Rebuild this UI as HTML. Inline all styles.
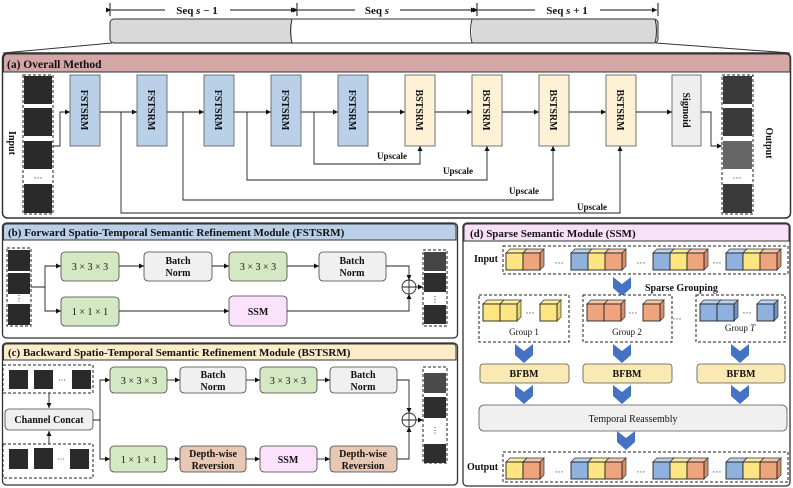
<!DOCTYPE html>
<html><head><meta charset="utf-8"><style>
html,body{margin:0;padding:0;background:#fff;}
svg{display:block;}
text{font-family:"Liberation Serif",serif;fill:#111;}
.b{font-weight:bold;}
</style></head><body>
<svg width="793" height="488" viewBox="0 0 793 488" xmlns="http://www.w3.org/2000/svg">
<defs>
<marker id="ar" markerWidth="6" markerHeight="6" refX="5" refY="3" orient="auto" markerUnits="userSpaceOnUse"><path d="M0,0.5 L5,3 L0,5.5z" fill="#111"/></marker>
<g id="cy"><path d="M0,0 l4,-4 h17 l-4,4z" fill="#fbeea0" stroke="#333" stroke-width="0.7"/><path d="M17,0 l4,-4 v17 l-4,4z" fill="#e8d46a" stroke="#333" stroke-width="0.7"/><rect width="17" height="17" fill="#fde582" stroke="#222" stroke-width="0.9"/></g>
<g id="co"><path d="M0,0 l4,-4 h17 l-4,4z" fill="#f6c6a8" stroke="#333" stroke-width="0.7"/><path d="M17,0 l4,-4 v17 l-4,4z" fill="#d9906a" stroke="#333" stroke-width="0.7"/><rect width="17" height="17" fill="#eea47c" stroke="#222" stroke-width="0.9"/></g>
<g id="cb"><path d="M0,0 l4,-4 h17 l-4,4z" fill="#bcd3ee" stroke="#333" stroke-width="0.7"/><path d="M17,0 l4,-4 v17 l-4,4z" fill="#6f93c4" stroke="#333" stroke-width="0.7"/><rect width="17" height="17" fill="#8fb1dd" stroke="#222" stroke-width="0.9"/></g>
<path id="ch" d="M-9,0 L0,7 L9,0 L9,11 L0,19 L-9,11z" fill="#4472c4"/>
</defs>

<!-- top sequence -->
<g stroke="#111" stroke-width="1">
<line x1="110" y1="3" x2="110" y2="16"/><line x1="297" y1="3" x2="297" y2="16"/><line x1="477" y1="3" x2="477" y2="16"/><line x1="658" y1="3" x2="658" y2="16"/>
<line x1="111" y1="10" x2="165" y2="10" marker-start="url(#ar)"/><line x1="230" y1="10" x2="296" y2="10" marker-end="url(#ar)"/>
<line x1="298" y1="10" x2="355" y2="10" marker-start="url(#ar)"/><line x1="400" y1="10" x2="476" y2="10" marker-end="url(#ar)"/>
<line x1="478" y1="10" x2="535" y2="10" marker-start="url(#ar)"/><line x1="600" y1="10" x2="657" y2="10" marker-end="url(#ar)"/>
</g>
<text x="197" y="14" font-size="11" class="b" text-anchor="middle">Seq <tspan font-style="italic">s</tspan> − 1</text>
<text x="377" y="14" font-size="11" class="b" text-anchor="middle">Seq <tspan font-style="italic">s</tspan></text>
<text x="567" y="14" font-size="11" class="b" text-anchor="middle">Seq <tspan font-style="italic">s</tspan> + 1</text>
<rect x="110" y="19" width="548" height="24" rx="4" fill="#d9d9d9" stroke="#333"/>
<rect x="292" y="19.5" width="180" height="23" fill="#fff"/>
<path d="M292,19 q-3,12 0,24 M472,19 q-3,12 0,24 M655,19 q3,12 0,24" fill="none" stroke="#333"/>
<line x1="292" y1="19" x2="472" y2="19" stroke="#333"/><line x1="292" y1="43" x2="472" y2="43" stroke="#333"/>
<line x1="112" y1="43" x2="3" y2="53" stroke="#333"/><line x1="656" y1="43" x2="790" y2="53" stroke="#333"/>

<!-- (a) -->
<rect x="2.5" y="53" width="788" height="165" rx="5" fill="#fff" stroke="#333" stroke-width="1.5"/>
<path d="M3.5,72 V58 a4,4 0 0 1 4,-4 H786 a4,4 0 0 1 4,4 V72z" fill="#d5a6a6" stroke="#333"/>
<text x="7" y="68" font-size="11.5" class="b">(a) Overall Method</text>
<rect x="23" y="75" width="30" height="139" fill="#fff" stroke="#222" stroke-dasharray="3,2"/>
<g fill="#2a2a2a"><rect x="24" y="76" width="28" height="28"/><rect x="24" y="108" width="28" height="28"/><rect x="24" y="141" width="28" height="28"/><rect x="24" y="184" width="28" height="29"/></g>
<text x="38" y="181" font-size="9" text-anchor="middle">···</text>
<text transform="translate(9,143) rotate(90)" font-size="10" class="b" text-anchor="middle">Input</text>
<rect x="722" y="75" width="31" height="139" fill="#fff" stroke="#222" stroke-dasharray="3,2"/>
<g><rect x="723" y="76" width="29" height="28" fill="#3a3a3a"/><rect x="723" y="108" width="29" height="28" fill="#3a3a3a"/><rect x="723" y="141" width="29" height="28" fill="#666"/><rect x="723" y="184" width="29" height="29" fill="#3a3a3a"/></g>
<text x="737" y="181" font-size="9" text-anchor="middle">···</text>
<text transform="translate(766,143) rotate(90)" font-size="10" class="b" text-anchor="middle">Output</text>

<g stroke="#555" stroke-width="0.8">
<rect x="70" y="75" width="30" height="71" fill="#b9d0e8"/><rect x="137" y="75" width="30" height="71" fill="#b9d0e8"/><rect x="204" y="75" width="30" height="71" fill="#b9d0e8"/><rect x="271" y="75" width="30" height="71" fill="#b9d0e8"/><rect x="338" y="75" width="30" height="71" fill="#b9d0e8"/>
<rect x="405" y="75" width="30" height="71" fill="#fdf1d6"/><rect x="472" y="75" width="30" height="71" fill="#fdf1d6"/><rect x="539" y="75" width="30" height="71" fill="#fdf1d6"/><rect x="606" y="75" width="30" height="71" fill="#fdf1d6"/>
<rect x="672" y="75" width="29" height="71" fill="#eeeeee"/>
</g>
<g font-size="10" class="b" text-anchor="middle">
<text transform="translate(81,110) rotate(90)" class="b">FSTSRM</text><text transform="translate(148,110) rotate(90)" class="b">FSTSRM</text><text transform="translate(215,110) rotate(90)" class="b">FSTSRM</text><text transform="translate(282,110) rotate(90)" class="b">FSTSRM</text><text transform="translate(349,110) rotate(90)" class="b">FSTSRM</text>
<text transform="translate(416,110) rotate(90)" class="b">BSTSRM</text><text transform="translate(483,110) rotate(90)" class="b">BSTSRM</text><text transform="translate(550,110) rotate(90)" class="b">BSTSRM</text><text transform="translate(617,110) rotate(90)" class="b">BSTSRM</text>
<text transform="translate(683,110) rotate(90)" class="b">Sigmoid</text>
</g>
<g stroke="#222" stroke-width="0.9" fill="none">
<path d="M53,146 H60 V112 H70" marker-end="url(#ar)"/>
<path d="M100,112 H137" marker-end="url(#ar)"/><path d="M167,112 H204" marker-end="url(#ar)"/><path d="M234,112 H271" marker-end="url(#ar)"/><path d="M301,112 H338" marker-end="url(#ar)"/><path d="M368,112 H405" marker-end="url(#ar)"/><path d="M435,112 H472" marker-end="url(#ar)"/><path d="M502,112 H539" marker-end="url(#ar)"/><path d="M569,112 H606" marker-end="url(#ar)"/><path d="M636,112 H672" marker-end="url(#ar)"/>
<path d="M701,112 H711 V146 H722" marker-end="url(#ar)"/>
<path d="M121,112 V213 H620 V146" marker-end="url(#ar)"/>
<path d="M183,112 V200 H553 V146" marker-end="url(#ar)"/>
<path d="M247,112 V180 H487 V146" marker-end="url(#ar)"/>
<path d="M314,112 V164 H420 V146" marker-end="url(#ar)"/>
</g>
<g font-size="9" class="b" text-anchor="middle">
<text x="392" y="159" class="b">Upscale</text><text x="458" y="174" class="b">Upscale</text><text x="524" y="194" class="b">Upscale</text><text x="592" y="210" class="b">Upscale</text>
</g>

<!-- (b) -->
<rect x="2.5" y="223" width="455" height="115" rx="4" fill="#fff" stroke="#333" stroke-width="1.3"/>
<path d="M3.5,240 V227 a3,3 0 0 1 3,-3 H453 a3,3 0 0 1 3,3 V240z" fill="#b9d0e8" stroke="#333"/>
<text x="8" y="236" font-size="11" class="b">(b) Forward Spatio-Temporal Semantic Refinement Module (FSTSRM)</text>
<rect x="7" y="248" width="24" height="78" fill="#fff" stroke="#222" stroke-dasharray="3,2"/>
<g fill="#2a2a2a"><rect x="8" y="250" width="22" height="21"/><rect x="8" y="273" width="22" height="21"/><rect x="8" y="304" width="22" height="21"/></g>
<text x="19" y="301" font-size="8" text-anchor="middle">⋮</text>
<rect x="423" y="250" width="24" height="76" fill="#fff" stroke="#222" stroke-dasharray="3,2"/>
<g><rect x="424" y="252" width="22" height="19" fill="#444"/><rect x="424" y="273" width="22" height="19" fill="#2e2e2e"/><rect x="424" y="305" width="22" height="19" fill="#2e2e2e"/></g>
<text x="435" y="302" font-size="8" text-anchor="middle">⋮</text>
<g stroke="#444" stroke-width="0.8">
<rect x="61" y="252" width="58" height="29" rx="4" fill="#d5e8c4"/><rect x="144" y="252" width="68" height="29" rx="4" fill="#f0f0f0"/><rect x="229" y="252" width="58" height="29" rx="4" fill="#d5e8c4"/><rect x="319" y="252" width="67" height="29" rx="4" fill="#f0f0f0"/>
<rect x="61" y="297" width="58" height="29" rx="4" fill="#d5e8c4"/><rect x="229" y="296" width="58" height="30" rx="4" fill="#fbe2fb"/>
</g>
<g font-size="10" text-anchor="middle">
<text x="90" y="270">3 × 3 × 3</text><text x="258" y="270">3 × 3 × 3</text><text x="90" y="315">1 × 1 × 1</text>
<text x="178" y="264" class="b">Batch</text><text x="178" y="276" class="b">Norm</text><text x="352" y="264" class="b">Batch</text><text x="352" y="276" class="b">Norm</text>
<text x="258" y="315" class="b">SSM</text>
</g>
<g stroke="#222" stroke-width="0.9" fill="none">
<path d="M31,287 H45 V266 H61" marker-end="url(#ar)"/><path d="M45,287 V311 H61" marker-end="url(#ar)"/>
<path d="M119,266 H144" marker-end="url(#ar)"/><path d="M212,266 H229" marker-end="url(#ar)"/><path d="M287,266 H319" marker-end="url(#ar)"/>
<path d="M119,311 H229" marker-end="url(#ar)"/>
<path d="M386,266 H409 V280" marker-end="url(#ar)"/><path d="M287,311 H409 V294" marker-end="url(#ar)"/>
<circle cx="409" cy="287" r="7" fill="#fff"/><path d="M402,287 H416 M409,280 V294"/>
<path d="M416,287 H423" marker-end="url(#ar)"/>
</g>

<!-- (c) -->
<rect x="2.5" y="343" width="455" height="142" rx="4" fill="#fff" stroke="#333" stroke-width="1.3"/>
<path d="M3.5,360 V347 a3,3 0 0 1 3,-3 H453 a3,3 0 0 1 3,3 V360z" fill="#fcecc8" stroke="#333"/>
<text x="8" y="356" font-size="11" class="b">(c) Backward Spatio-Temporal Semantic Refinement Module (BSTSRM)</text>
<rect x="3" y="365" width="90" height="28" fill="#fff" stroke="#222" stroke-dasharray="3,2"/>
<g fill="#2a2a2a"><rect x="9" y="370" width="19" height="19"/><rect x="34" y="370" width="19" height="19"/><rect x="72" y="370" width="19" height="19"/></g>
<text x="62" y="383" font-size="8" text-anchor="middle">···</text>
<rect x="3" y="444" width="90" height="34" fill="#fff" stroke="#222" stroke-dasharray="3,2"/>
<g fill="#2a2a2a"><rect x="9" y="449" width="19" height="20"/><rect x="34" y="448" width="19" height="21"/><rect x="70" y="449" width="19" height="20"/></g>
<text x="61" y="462" font-size="8" text-anchor="middle" fill="#888">···</text>
<rect x="5" y="409" width="88" height="21" rx="4" fill="#f0f0f0" stroke="#444" stroke-width="0.8"/>
<text x="49" y="423" font-size="10" class="b" text-anchor="middle">Channel Concat</text>
<rect x="423" y="367" width="24" height="96" fill="#fff" stroke="#222" stroke-dasharray="3,2"/>
<g><rect x="424" y="373" width="22" height="20" fill="#4a4a4a"/><rect x="424" y="397" width="22" height="21" fill="#2e2e2e"/><rect x="424" y="444" width="22" height="19" fill="#2e2e2e"/></g>
<text x="435" y="433" font-size="8" text-anchor="middle">⋮</text>
<g stroke="#444" stroke-width="0.8">
<rect x="110" y="367" width="57" height="26" rx="4" fill="#d5e8c4"/><rect x="180" y="367" width="66" height="26" rx="4" fill="#f0f0f0"/><rect x="260" y="367" width="57" height="26" rx="4" fill="#d5e8c4"/><rect x="330" y="367" width="67" height="26" rx="4" fill="#f0f0f0"/>
<rect x="110" y="446" width="57" height="26" rx="4" fill="#d5e8c4"/><rect x="180" y="446" width="66" height="26" rx="4" fill="#e6c8b4"/><rect x="260" y="446" width="57" height="26" rx="4" fill="#fbe2fb"/><rect x="330" y="446" width="67" height="26" rx="4" fill="#e6c8b4"/>
</g>
<g font-size="10" text-anchor="middle">
<text x="139" y="384">3 × 3 × 3</text><text x="288" y="384">3 × 3 × 3</text><text x="139" y="463">1 × 1 × 1</text>
<text x="213" y="378" class="b">Batch</text><text x="213" y="390" class="b">Norm</text><text x="363" y="378" class="b">Batch</text><text x="363" y="390" class="b">Norm</text>
<text x="213" y="457" class="b">Depth-wise</text><text x="213" y="469" class="b">Reversion</text><text x="363" y="457" class="b">Depth-wise</text><text x="363" y="469" class="b">Reversion</text>
<text x="288" y="463" class="b">SSM</text>
</g>
<g stroke="#222" stroke-width="0.9" fill="none">
<path d="M49,393 V408" marker-end="url(#ar)"/><path d="M49,444 V431" marker-end="url(#ar)"/>
<path d="M93,420 H100 V380 H110" marker-end="url(#ar)"/><path d="M100,420 V459 H110" marker-end="url(#ar)"/>
<path d="M167,380 H180" marker-end="url(#ar)"/><path d="M246,380 H260" marker-end="url(#ar)"/><path d="M317,380 H330" marker-end="url(#ar)"/>
<path d="M167,459 H180" marker-end="url(#ar)"/><path d="M246,459 H260" marker-end="url(#ar)"/><path d="M317,459 H330" marker-end="url(#ar)"/>
<path d="M397,380 H409 V413" marker-end="url(#ar)"/><path d="M397,459 H409 V427" marker-end="url(#ar)"/>
<circle cx="409" cy="420" r="7" fill="#fff"/><path d="M402,420 H416 M409,413 V427"/>
<path d="M416,420 H423" marker-end="url(#ar)"/>
</g>

<!-- (d) -->
<rect x="463" y="223" width="327" height="263" rx="4" fill="#fff" stroke="#333" stroke-width="1.3"/>
<path d="M464,241 V227 a3,3 0 0 1 3,-3 H786 a3,3 0 0 1 3,3 V241z" fill="#f8e1f8" stroke="#333"/>
<text x="470" y="237" font-size="11" class="b">(d) Sparse Semantic Module (SSM)</text>
<text x="474" y="262" font-size="10" class="b">Input</text>
<rect x="503" y="246" width="285" height="28" fill="#fff" stroke="#222" stroke-dasharray="3,2"/>
<g transform="translate(0,253)"><use href="#cy" x="506"/><use href="#co" x="523"/><use href="#cb" x="571"/><use href="#cy" x="588"/><use href="#co" x="605"/><use href="#cb" x="653"/><use href="#cy" x="670"/><use href="#co" x="687"/><use href="#cb" x="726"/><use href="#cy" x="743"/><use href="#co" x="760"/></g>
<g font-size="9" text-anchor="middle"><text x="559" y="266">···</text><text x="641" y="266">···</text><text x="717" y="266">···</text></g>
<use href="#ch" x="622" y="277"/>
<text x="645" y="291" font-size="10" class="b">Sparse Grouping</text>
<rect x="479" y="295" width="90" height="47" fill="#fff" stroke="#222" stroke-dasharray="3,2"/>
<rect x="583" y="295" width="89" height="47" fill="#fff" stroke="#222" stroke-dasharray="3,2"/>
<rect x="696" y="295" width="89" height="47" fill="#fff" stroke="#222" stroke-dasharray="3,2"/>
<g transform="translate(0,304)"><use href="#cy" x="483"/><use href="#cy" x="500"/><use href="#cy" x="540"/><use href="#co" x="587"/><use href="#co" x="604"/><use href="#co" x="643"/><use href="#cb" x="700"/><use href="#cb" x="717"/><use href="#cb" x="757"/></g>
<g font-size="9" text-anchor="middle"><text x="530" y="316">···</text><text x="633" y="316">···</text><text x="747" y="316">···</text><text x="677" y="322">···</text></g>
<g font-size="9" text-anchor="middle"><text x="524" y="335">Group 1</text><text x="627" y="335">Group 2</text><text x="740" y="331">Group <tspan font-style="italic">T</tspan></text></g>
<use href="#ch" x="524" y="344"/><use href="#ch" x="622" y="344"/><use href="#ch" x="740" y="344"/>
<g stroke="#555" stroke-width="0.8" fill="#fbe9b4"><rect x="480" y="364" width="89" height="19" rx="3"/><rect x="583" y="364" width="89" height="19" rx="3"/><rect x="697" y="364" width="88" height="19" rx="3"/></g>
<g font-size="10" class="b" text-anchor="middle"><text x="524" y="377" class="b">BFBM</text><text x="627" y="377" class="b">BFBM</text><text x="741" y="377" class="b">BFBM</text></g>
<use href="#ch" x="524" y="385"/><use href="#ch" x="622" y="385"/><use href="#ch" x="740" y="385"/>
<rect x="479" y="405" width="308" height="26" rx="5" fill="#f0f0f0" stroke="#555" stroke-width="0.8"/>
<text x="633" y="422" font-size="10" text-anchor="middle">Temporal Reassembly</text>
<use href="#ch" x="626" y="431"/>
<text x="467" y="470" font-size="10" class="b">Output</text>
<rect x="503" y="452" width="285" height="30" fill="#fff" stroke="#222" stroke-dasharray="3,2"/>
<g transform="translate(0,462)"><use href="#cy" x="506"/><use href="#co" x="523"/><use href="#cb" x="571"/><use href="#cy" x="588"/><use href="#co" x="605"/><use href="#cb" x="653"/><use href="#cy" x="670"/><use href="#co" x="687"/><use href="#cb" x="726"/><use href="#cy" x="743"/><use href="#co" x="760"/></g>
<g font-size="9" text-anchor="middle"><text x="559" y="475">···</text><text x="641" y="475">···</text><text x="717" y="475">···</text></g>
</svg>
</body></html>
